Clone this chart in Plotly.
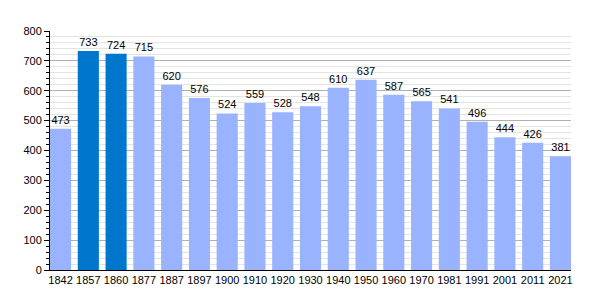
import plotly.graph_objects as go

years = ["1842", "1857", "1860", "1877", "1887", "1897", "1900", "1910", "1920", "1930",
         "1940", "1950", "1960", "1970", "1981", "1991", "2001", "2011", "2021"]
population = [473, 733, 724, 715, 620, 576, 524, 559, 528, 548,
              610, 637, 587, 565, 541, 496, 444, 426, 381]
highlight = ["1857", "1860"]

light = "#99b3ff"
dark = "#0077cc"
colors = [dark if y in highlight else light for y in years]

gap = 0.24
half = (1 - gap) / 2

fig = go.Figure(go.Bar(
    x=years, y=population, marker=dict(color=colors, line=dict(width=0)),
    text=[str(v) for v in population], textposition="outside",
    textfont=dict(family="Liberation Sans, Arial", size=11, color="black"),
    cliponaxis=False,
))
fig.update_layout(
    width=600, height=300,
    margin=dict(l=50, r=29, t=31, b=30),
    plot_bgcolor="white", paper_bgcolor="white",
    bargap=gap, showlegend=False,
    font=dict(family="Liberation Sans, Arial", size=11, color="black"),
    xaxis=dict(type="category", showline=True, linecolor="black", linewidth=1,
               range=[-half, len(years) - 1 + half],
               ticks="", tickfont=dict(size=11), showgrid=False),
    yaxis=dict(range=[0, 800], dtick=100, showline=True, linecolor="black", linewidth=1,
               ticks="outside", ticklen=5, tickcolor="black",
               gridcolor="#b0b0b0", gridwidth=1, zeroline=False,
               tickfont=dict(size=11),
               minor=dict(dtick=20, showgrid=True, gridcolor="#e4e4e4",
                          ticks="outside", ticklen=3, tickcolor="black")),
)
fig.write_html("out.html")
